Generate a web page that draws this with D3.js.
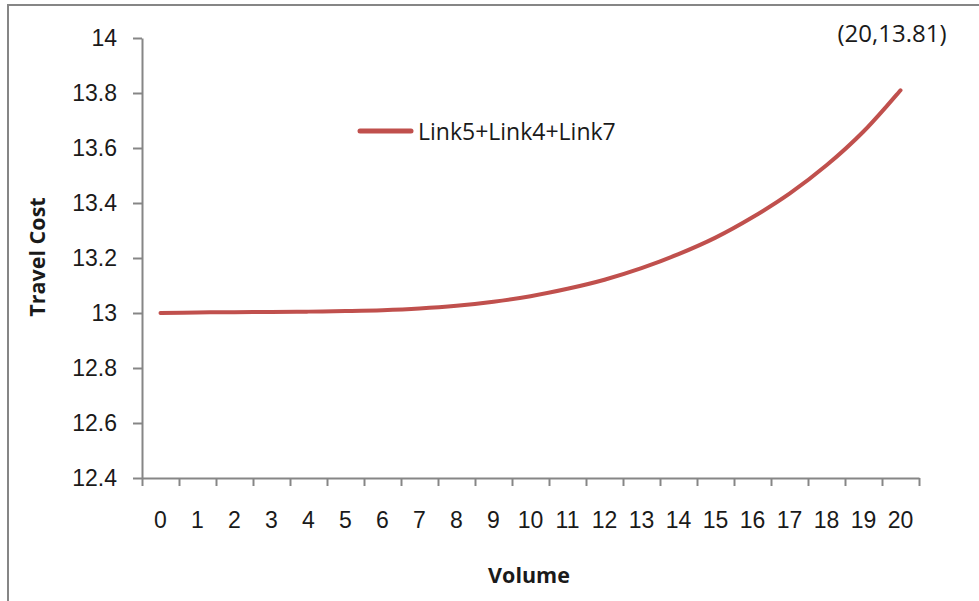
<!DOCTYPE html>
<html>
<head>
<meta charset="utf-8">
<script src="https://cdn.jsdelivr.net/npm/d3@7"></script>
<style>
  html, body { margin: 0; padding: 0; background: #fff; }
  svg { display: block; font-family: "Open Sans", "Noto Sans", sans-serif; }
</style>
</head>
<body>
<svg id="chart" width="979" height="601"></svg>
<script>
// Volume on the x axis, travel cost of the path Link5+Link4+Link7
const volumes = [0, 1, 2, 3, 4, 5, 6, 7, 8, 9, 10, 11, 12, 13, 14, 15, 16, 17, 18, 19, 20];
const travelCost = [13.000, 13.002, 13.003, 13.004, 13.005, 13.007, 13.010, 13.016, 13.026, 13.041,
                    13.061, 13.088, 13.121, 13.163, 13.214, 13.274, 13.348, 13.434, 13.537, 13.660, 13.810];
const yTicks = [12.4, 12.6, 12.8, 13, 13.2, 13.4, 13.6, 13.8, 14];
const seriesName = "Link5+Link4+Link7";
const pointLabel = "(20,13.81)";

const svg = d3.select("#chart");
const axisGray = "#868686";
const lineColor = "#C0504D";
const textColor = "#1a1a1a";

// outer frame
svg.append("rect")
  .attr("x", 8).attr("y", 5)
  .attr("width", 1000).attr("height", 640)
  .attr("fill", "none")
  .attr("stroke", axisGray)
  .attr("stroke-width", 2);

const plotLeft = 142, plotRight = 919, plotTop = 38, plotBottom = 478;

const x = d3.scaleBand().domain(volumes).range([plotLeft, plotRight]).padding(0);
const xEdges = d3.scaleLinear().domain([0, volumes.length]).range([plotLeft, plotRight]);
const y = d3.scaleLinear().domain([12.4, 14]).range([plotBottom, plotTop]);

// y axis
const yAxis = svg.append("g")
  .attr("transform", `translate(${plotLeft},0)`)
  .call(d3.axisLeft(y).tickValues(yTicks).tickSize(9).tickSizeOuter(0).tickPadding(16)
    .tickFormat(d => String(+d.toFixed(1))));
yAxis.select(".domain").attr("stroke", axisGray).attr("stroke-width", 2);
yAxis.selectAll(".tick line").attr("stroke", axisGray).attr("stroke-width", 2);
yAxis.selectAll(".tick text").attr("fill", textColor).style("font-size", "23px");

// x axis: ticks between categories
const xTickAxis = svg.append("g")
  .attr("transform", `translate(0,${plotBottom})`)
  .call(d3.axisBottom(xEdges).tickValues(d3.range(0, volumes.length + 1)).tickSize(8)
    .tickSizeOuter(0).tickFormat(""));
xTickAxis.select(".domain").attr("stroke", axisGray).attr("stroke-width", 2);
xTickAxis.selectAll(".tick line").attr("stroke", axisGray).attr("stroke-width", 2);

// x axis labels centred in each category
const xLabelAxis = svg.append("g")
  .attr("transform", `translate(0,${plotBottom})`)
  .call(d3.axisBottom(x).tickSize(0).tickPadding(34));
xLabelAxis.select(".domain").remove();
xLabelAxis.selectAll(".tick text").attr("fill", textColor).style("font-size", "23px");

// axis titles
svg.append("text")
  .attr("transform", "translate(36,257) rotate(-90)")
  .attr("text-anchor", "middle").attr("dominant-baseline", "central")
  .attr("fill", textColor).style("font-size", "21.5px").style("font-weight", "bold")
  .text("Travel Cost");
svg.append("text")
  .attr("x", 529).attr("y", 574)
  .attr("text-anchor", "middle").attr("dominant-baseline", "central")
  .attr("fill", textColor).style("font-size", "21.5px").style("font-weight", "bold")
  .text("Volume");

// series line
const line = d3.line()
  .x((d, i) => x(volumes[i]) + x.bandwidth() / 2)
  .y(d => y(d))
  .curve(d3.curveCatmullRom.alpha(0.5));
svg.append("path")
  .datum(travelCost)
  .attr("fill", "none")
  .attr("stroke", lineColor)
  .attr("stroke-width", 4)
  .attr("stroke-linecap", "round")
  .attr("d", line);

// legend
svg.append("line")
  .attr("x1", 360).attr("x2", 411).attr("y1", 131).attr("y2", 131)
  .attr("stroke", lineColor).attr("stroke-width", 5).attr("stroke-linecap", "round");
svg.append("text")
  .attr("x", 418).attr("y", 131).attr("dominant-baseline", "central")
  .attr("fill", textColor).style("font-size", "23px")
  .text(seriesName);

// end-point label
svg.append("text")
  .attr("x", 892).attr("y", 32)
  .attr("text-anchor", "middle").attr("dominant-baseline", "central")
  .attr("fill", textColor).style("font-size", "24px")
  .text(pointLabel);
</script>
</body>
</html>
